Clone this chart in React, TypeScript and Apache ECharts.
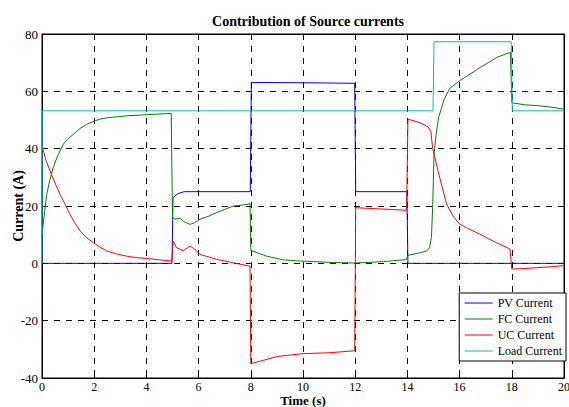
import React, { useEffect, useRef } from "react";
import * as echarts from "echarts";

const chartTitle = "Contribution of Source currents";
const seriesNames = ["PV Current", "FC Current", "UC Current", "Load Current"];
const seriesColors = ["#0000ff", "#008000", "#ff0000", "#00bfbf"];

const pvCurrent = [[0,0],[4.98,0],[5.02,22.9],[5.2,24.3],[5.45,25],[7.98,25],[8.02,63.1],[10,63],[11.98,62.8],[12.02,25],[13.98,25],[14.02,0],[20,0]];

const fcCurrent = [[0,10],[0.1,18],[0.18,24],[0.3,29],[0.43,33.4],[0.6,37.5],[0.82,41.6],[1.0,43.5],[1.2,45],[1.45,47],[1.71,48.5],[2.0,49.6],[2.22,50.3],[2.5,50.8],[2.86,51.1],[3.3,51.5],[3.75,51.7],[4.3,52],[4.95,52.3],[5.0,16],[5.1,15.4],[5.3,15.8],[5.41,14.7],[5.67,13.6],[5.85,14.2],[6.05,15.4],[6.4,16.5],[6.69,17.7],[7.0,18.8],[7.33,20],[7.65,20.3],[7.97,20.8],[8.0,4.5],[8.3,3.5],[8.61,2.5],[9.25,1.2],[9.9,0.8],[11.16,0.3],[12,0.1],[13.08,0.6],[13.95,1.3],[14.02,2.8],[14.4,3.5],[14.74,4.3],[14.85,5.5],[14.92,9],[14.97,20],[15.02,38],[15.1,45],[15.2,51],[15.4,57],[15.62,61],[16,63.7],[16.4,66],[16.78,68.3],[17.1,70],[17.42,71.8],[17.7,72.8],[17.95,73.6],[18.0,56],[18.5,55.3],[19,55],[19.5,54.5],[20,53.8]];

const ucCurrent = [[0,41],[0.15,36],[0.31,32.2],[0.5,28],[0.69,24.1],[0.9,20.3],[1.07,17.1],[1.25,14.2],[1.46,11.3],[1.7,9],[1.97,7.2],[2.2,5.8],[2.48,4.3],[2.85,3.3],[3.24,2.5],[3.6,2],[4.01,1.7],[4.5,1.2],[4.98,0.8],[5.03,7.8],[5.15,5.5],[5.41,4.4],[5.67,6],[5.85,5],[6.05,3.1],[6.4,2.2],[6.69,1.4],[7.0,0.8],[7.33,0.2],[7.97,-1],[8.0,-35],[8.2,-34.5],[8.5,-33.8],[9,-32.5],[9.5,-32],[10,-31.5],[11,-31.2],[11.98,-30.5],[12.02,19.4],[13.97,18.5],[14.02,50.3],[14.5,49],[14.8,47.5],[14.9,46],[14.97,40],[15.05,37],[15.18,32],[15.35,26],[15.5,20.7],[15.75,16.5],[16,13.7],[16.4,11.8],[16.78,10.2],[17.1,8.6],[17.42,7.2],[17.7,6],[17.93,5],[18.0,-2],[18.5,-1.8],[19,-1.5],[19.5,-1.2],[20,-0.8]];

const loadCurrent = [[0,0],[0.01,53.2],[14.98,53.2],[15.02,77.3],[17.98,77.3],[18.02,53.2],[20,53.2]];

const seriesData = [pvCurrent, fcCurrent, ucCurrent, loadCurrent];

const font = "Liberation Serif";

export default function App() {
  const ref = useRef<HTMLDivElement>(null);
  useEffect(() => {
    if (!ref.current) return;
    const chart = echarts.init(ref.current, null, { renderer: "svg" });
    const splitLine = { show: true, lineStyle: { color: "#000", type: [6, 6], width: 1 } };
    chart.setOption({
      animation: false,
      backgroundColor: "#fff",
      title: {
        text: chartTitle,
        left: 303,
        textAlign: "center",
        top: 9,
        textStyle: { fontFamily: font, fontWeight: "bold", fontSize: 14, color: "#000" },
      },
      grid: { left: 42, right: 5, top: 34, bottom: 29, outerBoundsMode: "none", containLabel: false, show: true, borderColor: "#000", borderWidth: 1, backgroundColor: "#fff" },
      legend: {
        data: seriesNames,
        orient: "vertical",
        right: 3,
        top: 293,
        backgroundColor: "#fff",
        borderColor: "#000",
        borderWidth: 1,
        borderRadius: 0,
        padding: [4, 4, 4, 5],
        itemWidth: 28,
        itemHeight: 12,
        itemGap: 4,
        itemStyle: { opacity: 0 },
        lineStyle: { width: 1 },
        textStyle: { fontFamily: font, fontSize: 12, color: "#000", padding: [0, 0, 0, 0] },
      },
      xAxis: [
        {
          type: "value", min: 0, max: 20, interval: 2,
          name: "Time (s)", nameLocation: "middle", nameGap: 16, nameMoveOverlap: false,
          nameTextStyle: { fontFamily: font, fontWeight: "bold", fontSize: 13, color: "#000" },
          axisLine: { show: true, onZero: false, lineStyle: { color: "#000" } },
          axisTick: { show: true, inside: true, length: 5, lineStyle: { color: "#000" } },
          axisLabel: { fontFamily: font, fontSize: 12, color: "#000", margin: 3 },
          splitLine,
        },
        {
          type: "value", min: 0, max: 20, interval: 2, position: "top",
          axisLine: { show: true, onZero: false, lineStyle: { color: "#000" } },
          axisTick: { show: true, inside: true, length: 5, lineStyle: { color: "#000" } },
          axisLabel: { show: false },
          splitLine: { show: false },
        },
      ],
      yAxis: [
        {
          type: "value", min: -40, max: 80, interval: 20,
          name: "Current (A)", nameLocation: "middle", nameGap: 17, nameMoveOverlap: false,
          nameTextStyle: { fontFamily: font, fontWeight: "bold", fontSize: 14, color: "#000" },
          axisLine: { show: true, onZero: false, lineStyle: { color: "#000" } },
          axisTick: { show: true, inside: true, length: 5, lineStyle: { color: "#000" } },
          axisLabel: { fontFamily: font, fontSize: 13, color: "#000", margin: 4 },
          splitLine,
        },
        {
          type: "value", min: -40, max: 80, interval: 20, position: "right",
          axisLine: { show: true, onZero: false, lineStyle: { color: "#000" } },
          axisTick: { show: true, inside: true, length: 5, lineStyle: { color: "#000" } },
          axisLabel: { show: false },
          splitLine: { show: false },
        },
      ],
      series: seriesNames.map((name, i) => ({
        name,
        type: "line",
        data: seriesData[i],
        showSymbol: false,
        symbol: "none",
        color: seriesColors[i],
        lineStyle: { color: seriesColors[i], width: 1 },
        z: 3,
      })),
    });
    return () => chart.dispose();
  }, []);
  return <div ref={ref} style={{ width: 569, height: 407, position: "absolute", left: 0, top: 0 }} />;
}
